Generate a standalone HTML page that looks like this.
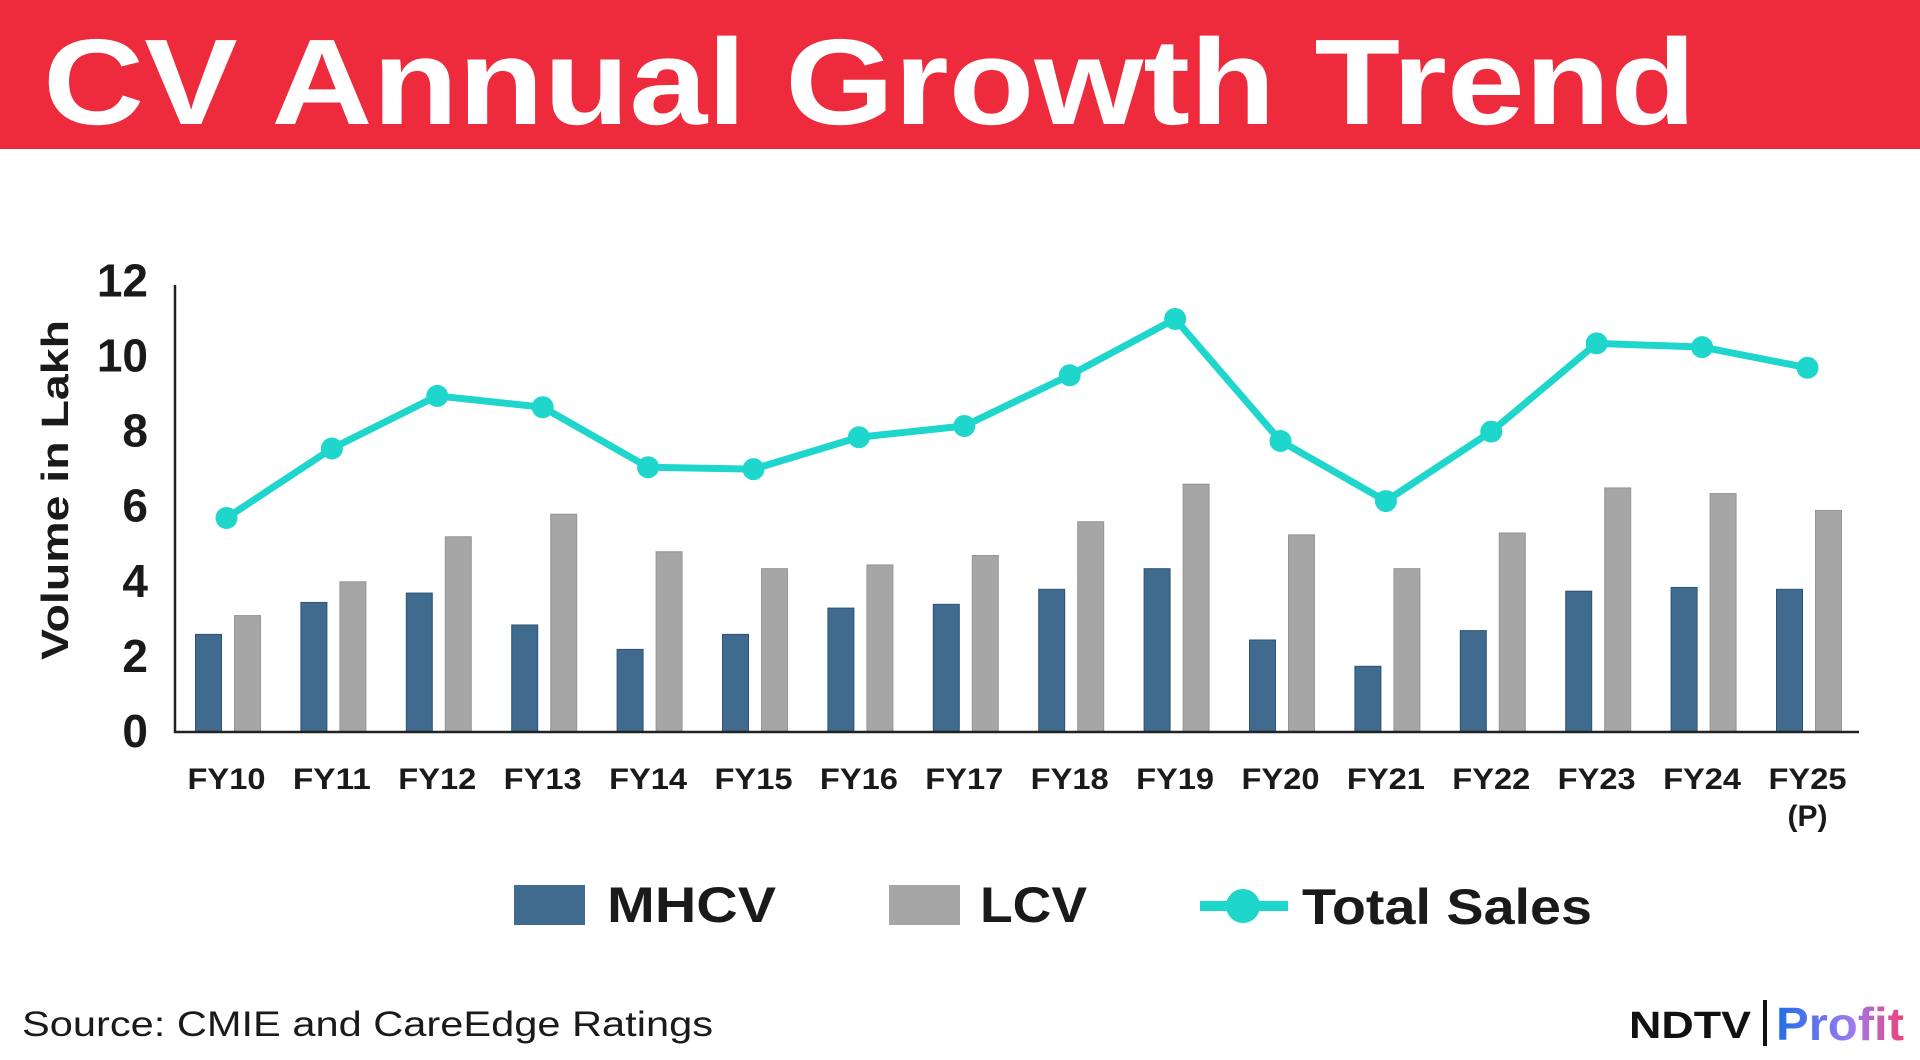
<!DOCTYPE html>
<html><head><meta charset="utf-8"><style>
html,body{margin:0;padding:0;background:#fff;}
svg{display:block;font-family:"Liberation Sans",Arial,sans-serif;}
</style></head><body>
<svg id="chart" width="1920" height="1060" viewBox="0 0 1920 1060">
<rect x="0" y="0" width="1920" height="149" fill="#EE2A3D"/>
<text x="43" y="124" font-size="122" font-weight="bold" fill="#fff" textLength="1653" lengthAdjust="spacingAndGlyphs">CV Annual Growth Trend</text>
<g id="plot"></g>
<text transform="translate(68,490) rotate(-90)" text-anchor="middle" font-size="38" font-weight="bold" fill="#1a1a1a" textLength="340" lengthAdjust="spacingAndGlyphs">Volume in Lakh</text>
<g>
<rect x="514" y="885" width="71" height="40" fill="#406A8E"/>
<text x="607" y="922" font-size="50" font-weight="bold" fill="#1a1a1a" textLength="169" lengthAdjust="spacingAndGlyphs">MHCV</text>
<rect x="889" y="885" width="71" height="40" fill="#A6A6A6"/>
<text x="980" y="922" font-size="50" font-weight="bold" fill="#1a1a1a" textLength="107" lengthAdjust="spacingAndGlyphs">LCV</text>
<line x1="1200" y1="906" x2="1288" y2="906" stroke="#1ED6CC" stroke-width="10"/>
<circle cx="1243" cy="906" r="17" fill="#1ED6CC"/>
<text x="1302" y="924" font-size="50" font-weight="bold" fill="#1a1a1a" textLength="290" lengthAdjust="spacingAndGlyphs">Total Sales</text>
</g>
<text x="22" y="1036" font-size="35" fill="#1a1a1a" textLength="691" lengthAdjust="spacingAndGlyphs">Source: CMIE and CareEdge Ratings</text>
<defs><linearGradient id="pg" x1="0" x2="1" y1="0" y2="0"><stop offset="0" stop-color="#1E6FE8"/><stop offset="0.6" stop-color="#9B7BEF"/><stop offset="1" stop-color="#F0407A"/></linearGradient></defs>
<text x="1629" y="1038" font-size="38" font-weight="bold" fill="#111" textLength="122" lengthAdjust="spacingAndGlyphs">NDTV</text>
<rect x="1763" y="1000" width="4" height="46" fill="#111"/>
<text x="1776" y="1040" font-size="46" font-weight="bold" fill="url(#pg)" textLength="128" lengthAdjust="spacingAndGlyphs">Profit</text>
</svg>
<script>
const categories = ["FY10","FY11","FY12","FY13","FY14","FY15","FY16","FY17","FY18","FY19","FY20","FY21","FY22","FY23","FY24","FY25"];
const mhcv = [2.6,3.45,3.7,2.85,2.2,2.6,3.3,3.4,3.8,4.35,2.45,1.75,2.7,3.75,3.85,3.8];
const lcv = [3.1,4.0,5.2,5.8,4.8,4.35,4.45,4.7,5.6,6.6,5.25,4.35,5.3,6.5,6.35,5.9];
const total = [5.7,7.55,8.95,8.65,7.05,7.0,7.85,8.15,9.5,11.0,7.75,6.15,8.0,10.35,10.25,9.7];
const yTicks = [0,2,4,6,8,10,12];

const NS = "http://www.w3.org/2000/svg";
const g = document.getElementById("plot");
const X0 = 226.5, STEP = 105.4, BASE = 732, UNIT = 37.55;
function xPos(i){ return X0 + i*STEP; }
function yPos(v){ return BASE - v*UNIT; }
function mk(tag, attrs){ const e=document.createElementNS(NS,tag); for(const k in attrs) e.setAttribute(k,attrs[k]); g.appendChild(e); return e; }

yTicks.forEach(t=>{
  const e = mk("text",{x:148,y:yPos(t)+15,"text-anchor":"end","font-size":46,"font-weight":"bold",fill:"#1a1a1a"});
  e.textContent = t;
  
  
});
categories.forEach((c,i)=>{
  const b1 = mk("rect",{x:xPos(i)-31,y:yPos(mhcv[i]),width:26,height:BASE-yPos(mhcv[i]),fill:"#406A8E",stroke:"#2d5478","stroke-width":1});
  
  
  const b2 = mk("rect",{x:xPos(i)+8,y:yPos(lcv[i]),width:26,height:BASE-yPos(lcv[i]),fill:"#A6A6A6",stroke:"#959595","stroke-width":1});
  
  
  const lbl = mk("text",{x:xPos(i),y:789,"text-anchor":"middle","font-size":30,"font-weight":"bold",fill:"#1a1a1a",textLength:78,lengthAdjust:"spacingAndGlyphs"});
  lbl.textContent = c;
  
  
  if(i===categories.length-1){
    const p = mk("text",{x:xPos(i),y:826,"text-anchor":"middle","font-size":30,"font-weight":"bold",fill:"#1a1a1a"});
    p.textContent = "(P)";
    
    
  }
});
const ax = mk("path",{d:"M175 285 L175 "+BASE+" L1859 "+BASE,fill:"none",stroke:"#222","stroke-width":2.5});


const line = mk("polyline",{points:total.map((v,i)=>xPos(i)+","+yPos(v)).join(" "),fill:"none",stroke:"#1ED6CC","stroke-width":7,"stroke-linejoin":"round"});


total.forEach((v,i)=>{
  const c = mk("circle",{cx:xPos(i),cy:yPos(v),r:11,fill:"#1ED6CC"});
  
  
});
</script>
</body></html>
